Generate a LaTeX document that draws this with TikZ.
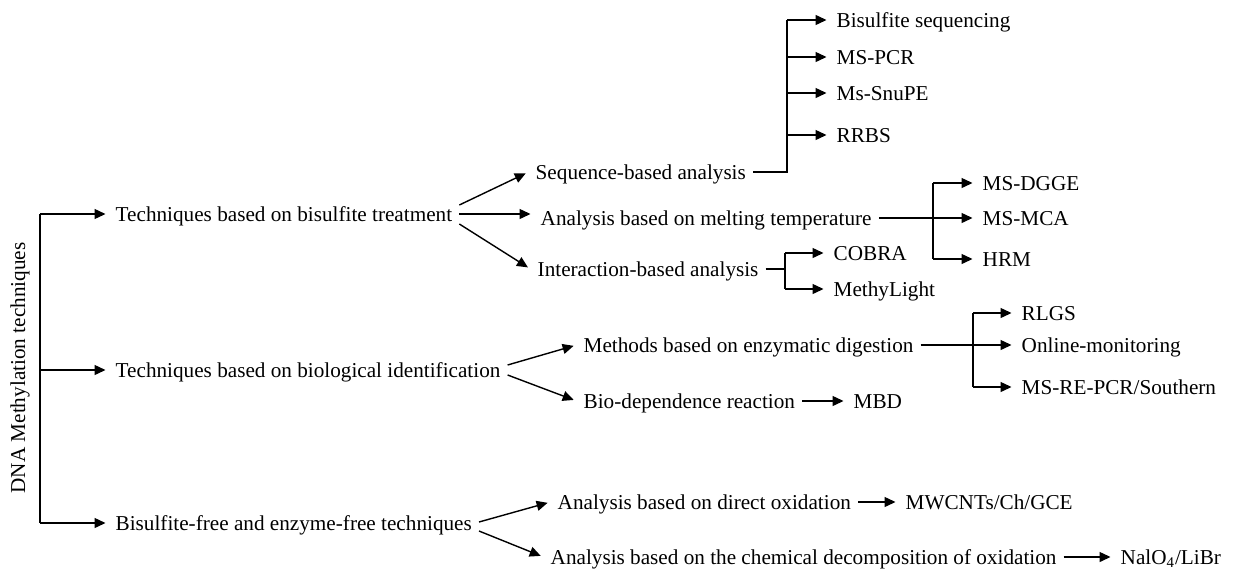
\documentclass[tikz,border=0pt]{standalone}
\usepackage{fontspec}
\setmainfont{Liberation Serif}
\usetikzlibrary{arrows.meta,calc}

\begin{document}
\begin{tikzpicture}[x=0.5pt,y=-0.5pt,
    line width=0.7pt,
    every node/.style={font=\fontsize{10.6}{12}\selectfont},
    txt/.style={anchor=west,inner xsep=3.25pt,inner ysep=0pt,xshift=-3.25pt,
      text height=0.72em,text depth=0.02em},
    arr/.style={-{Triangle[length=5.5pt,width=5pt]},shorten >=1.5pt}
    ]
    \useasboundingbox (0,0) rectangle (1235,573);

    % the root and its trunk
    \node[rotate=90] (root) at (20,368) {DNA Methylation techniques};
    \coordinate (trunk) at (40,368);

    % the three families
    \node[txt] (l1) at (115,214) {Techniques based on bisulfite treatment};
    \node[txt] (l2) at (115,370) {Techniques based on biological identification};
    \node[txt] (l3) at (115,523) {Bisulfite-free and enzyme-free techniques};

    % the second level
    \node[txt] (s1) at (535,172) {Sequence-based analysis};
    \node[txt] (s2) at (540,218) {Analysis based on melting temperature};
    \node[txt] (s3) at (537,269) {Interaction-based analysis};
    \node[txt] (b1) at (583,345) {Methods based on enzymatic digestion};
    \node[txt] (b2) at (583,401) {Bio-dependence reaction};
    \node[txt] (f1) at (557,502) {Analysis based on direct oxidation};
    \node[txt] (f2) at (550,557) {Analysis based on the chemical decomposition of oxidation};

    % the leaves
    \foreach \n/\yy/\t in {bs/20/Bisulfite sequencing,mspcr/57/MS-PCR,snupe/93/Ms-SnuPE,rrbs/135/RRBS}
    \node[txt] (\n) at (836,\yy) {\t};
    \foreach \n/\yy/\t in {dgge/183/MS-DGGE,mca/218/MS-MCA,hrm/259/HRM}
    \node[txt] (\n) at (982,\yy) {\t};
    \foreach \n/\yy/\t in {cobra/253/COBRA,mlight/289/MethyLight}
    \node[txt] (\n) at (833,\yy) {\t};
    \node[txt] (rlgs) at (1021,313) {RLGS};
    \node[txt] (online) at (1021,345) {Online-monitoring};
    \node[txt] (msre) at (1021,387) {MS-RE-PCR/Southern};
    \node[txt] (mbd) at (853,401) {MBD};
    \node[txt] (mwc) at (905,502) {MWCNTs/Ch/GCE};
    \node[txt] (nal) at (1120,557) {NalO\textsubscript{4}/LiBr};

    % the junctions
    \coordinate (seqj) at (787,172);
    \coordinate (mltj) at (933,218);
    \coordinate (intj) at (785,269);
    \coordinate (enzj) at (973,345);

    % trunk to families
    \draw (trunk |- l1) -- (trunk |- l3);
    \foreach \i in {1,2,3}
    \draw[arr] (trunk |- l\i) -- (l\i);

    % families to second level
    \draw[arr] ([yshift=4.5pt]l1.east) -- (s1.west);
    \draw[arr] (l1.east) -- (l1.east -| s2.west);
    \draw[arr] ([yshift=-5pt]l1.east) -- (s3.west);
    \draw[arr] ([yshift=2.5pt]l2.east) -- (b1.west);
    \draw[arr] ([yshift=-2.5pt]l2.east) -- (b2.west);
    \draw[arr] ([yshift=0.5pt]l3.east) -- (f1.west);
    \draw[arr] ([yshift=-4pt]l3.east) -- (f2.west);

    % sequence-based analysis
    \draw (s1) -- (seqj) -- (seqj |- bs);
    \foreach \n in {bs,mspcr,snupe,rrbs}
    \draw[arr] (seqj |- \n) -- (\n);

    % melting temperature
    \draw[arr] (s2) -- (mca);
    \draw (mltj |- dgge) -- (mltj |- hrm);
    \draw[arr] (mltj |- dgge) -- (dgge);
    \draw[arr] (mltj |- hrm) -- (hrm);

    % interaction-based analysis
    \draw (s3) -- (intj);
    \draw (intj |- cobra) -- (intj |- mlight);
    \draw[arr] (intj |- cobra) -- (cobra);
    \draw[arr] (intj |- mlight) -- (mlight);

    % enzymatic digestion
    \draw[arr] (b1) -- (online);
    \draw (enzj |- rlgs) -- (enzj |- msre);
    \draw[arr] (enzj |- rlgs) -- (rlgs);
    \draw[arr] (enzj |- msre) -- (msre);

    % single leaves
    \draw[arr] (b2) -- (mbd);
    \draw[arr] (f1) -- (mwc);
    \draw[arr] (f2) -- (nal);
\end{tikzpicture}
\end{document}
